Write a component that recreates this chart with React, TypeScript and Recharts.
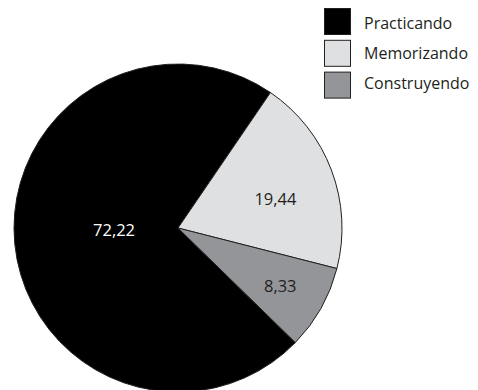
import { PieChart, Pie, Cell, Legend } from "recharts";

const categories = ["Practicando", "Memorizando", "Construyendo"];
const shares = [72.22, 19.44, 8.33];
const sliceColors = ["#000000", "#dfe0e2", "#939598"];

const data = categories.map((name, i) => ({ name, value: shares[i] }));

const RADIAN = Math.PI / 180;
const INK = "#231f20";
const FONT = "'Open Sans', 'Noto Sans', sans-serif";

// where each value sits inside its slice: share of the radius and a small angle nudge
const labelSpots = [
  { r: 0.39, shift: -4, fill: "#ffffff" },
  { r: 0.62, shift: -4, fill: INK },
  { r: 0.715, shift: 0, fill: INK },
];

function renderLabel(props: any) {
  const { cx, cy, midAngle, outerRadius, index, value } = props;
  const spot = labelSpots[index];
  const a = (midAngle + spot.shift) * RADIAN;
  const x = cx + outerRadius * spot.r * Math.cos(a);
  const y = cy - outerRadius * spot.r * Math.sin(a);
  return (
    <text
      x={x}
      y={y}
      textAnchor="middle"
      dominantBaseline="central"
      fill={spot.fill}
      fontFamily={FONT}
      fontSize={16.5}
    >
      {Number(value).toFixed(2).replace(".", ",")}
    </text>
  );
}

// legend keeps the data order (the pie payload comes out reversed here)
function SquareLegend({ payload }: any) {
  const byName = new Map((payload ?? []).map((p: any) => [p.value, p]));
  return (
    <svg width={160} height={100} style={{ display: "block", overflow: "visible" }}>
      {categories.map((name, i) => {
        const entry: any = byName.get(name) ?? { value: name };
        return (
          <g key={name}>
            <rect
              x={0.5}
              y={i * 31.8 + 0.5}
              width={26}
              height={26}
              fill={sliceColors[i]}
              stroke={INK}
              strokeWidth={1}
            />
            <text x={40} y={i * 30 + 21.3} fill={INK} fontFamily={FONT} fontSize={16}>
              {entry.value}
            </text>
          </g>
        );
      })}
    </svg>
  );
}

export default function App() {
  return (
    <PieChart width={470} height={382} margin={{ top: 0, right: 0, bottom: 0, left: 0 }}>
      <Pie
        data={data}
        dataKey="value"
        nameKey="name"
        cx={170}
        cy={220}
        outerRadius={164}
        startAngle={315.7}
        endAngle={-44.3}
        stroke={INK}
        strokeWidth={1}
        label={renderLabel}
        labelLine={false}
        isAnimationActive={false}
      >
        {data.map((d, i) => (
          <Cell key={d.name} fill={sliceColors[i]} />
        ))}
      </Pie>
      <Legend
        layout="vertical"
        align="right"
        verticalAlign="top"
        content={<SquareLegend />}
        wrapperStyle={{ top: 0, left: 316, width: 160 }}
      />
    </PieChart>
  );
}
